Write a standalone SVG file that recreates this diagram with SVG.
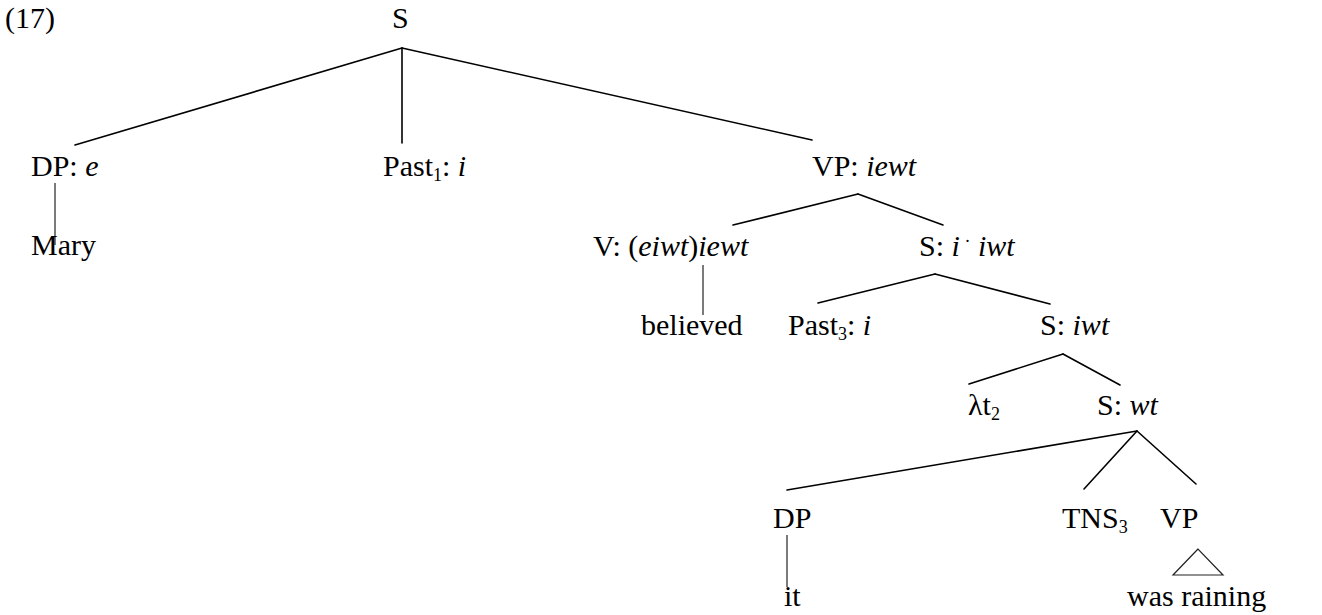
<svg xmlns="http://www.w3.org/2000/svg" width="1322" height="615" viewBox="0 0 1322 615">
  <style>
    text { font-family: "Liberation Serif", "Times New Roman", serif; font-size: 30px; fill: #000; }
    .it { font-style: italic; }
    .sub { font-size: 18px; }
    .edge { stroke: #000; stroke-width: 1.6; fill: none; stroke-linecap: round; }
    .thin { stroke: #222; stroke-width: 1.2; fill: none; }
  </style>
  <rect width="1322" height="615" fill="#fff"/>

  <text id="label" x="5" y="28">(17)</text>

  <!-- tree edges -->
  <g id="connectors">
    <!-- S -->
    <line class="edge" x1="402" y1="48" x2="75" y2="145"/>
    <line class="edge" x1="402" y1="48" x2="402" y2="143"/>
    <line class="edge" x1="402" y1="48" x2="812" y2="140"/>
    <!-- DP: e -> Mary -->
    <line class="thin" x1="55" y1="183" x2="55" y2="245"/>
    <!-- VP: iewt -->
    <line class="edge" x1="858" y1="194" x2="733" y2="225"/>
    <line class="edge" x1="858" y1="194" x2="943" y2="225"/>
    <!-- V -> believed -->
    <line class="thin" x1="703" y1="265" x2="703" y2="315"/>
    <!-- S: i iwt -->
    <line class="edge" x1="935" y1="274" x2="818" y2="303"/>
    <line class="edge" x1="935" y1="274" x2="1050" y2="304"/>
    <!-- S: iwt -->
    <line class="edge" x1="1063" y1="354" x2="969" y2="384"/>
    <line class="edge" x1="1063" y1="354" x2="1120" y2="385"/>
    <!-- S: wt -->
    <line class="edge" x1="1137" y1="431" x2="787" y2="490"/>
    <line class="edge" x1="1137" y1="431" x2="1084" y2="489"/>
    <line class="edge" x1="1137" y1="431" x2="1196" y2="484"/>
    <!-- DP -> it -->
    <line class="thin" x1="787" y1="535" x2="787" y2="587"/>
    <!-- VP roof -->
    <polygon class="thin" points="1198,549 1173,575 1223,575"/>
  </g>

  <g id="n-S"><text x="392" y="28">S</text></g>
  <g id="n-DPe"><text x="31" y="176">DP: <tspan class="it">e</tspan></text></g>
  <g id="n-Mary"><text x="31" y="255">Mary</text></g>
  <g id="n-Past1"><text x="383" y="176">Past<tspan class="sub" dy="5">1</tspan><tspan dy="-5">: </tspan><tspan class="it">i</tspan></text></g>
  <g id="n-VP1"><text x="812" y="176">VP: <tspan class="it">iewt</tspan></text></g>
  <g id="n-V"><text x="593" y="256">V: (<tspan class="it">eiwt</tspan>)<tspan class="it">iewt</tspan></text></g>
  <g id="n-S2"><text x="919" y="256">S: <tspan class="it">i</tspan><tspan class="sub" dy="-9"> ·</tspan><tspan dy="9"> </tspan><tspan class="it">iwt</tspan></text></g>
  <g id="n-believed"><text x="641" y="335">believed</text></g>
  <g id="n-Past3"><text x="788" y="335">Past<tspan class="sub" dy="5">3</tspan><tspan dy="-5">: </tspan><tspan class="it">i</tspan></text></g>
  <g id="n-S3"><text x="1040" y="335">S: <tspan class="it">iwt</tspan></text></g>
  <g id="n-lambda"><text x="968" y="415">λt<tspan class="sub" dy="5">2</tspan></text></g>
  <g id="n-S4"><text x="1097" y="415">S: <tspan class="it">wt</tspan></text></g>
  <g id="n-DP"><text x="773" y="528">DP</text></g>
  <g id="n-TNS"><text x="1062" y="528">TNS<tspan class="sub" dy="5">3</tspan></text></g>
  <g id="n-VP2"><text x="1160" y="528">VP</text></g>
  <g id="n-it"><text x="784" y="606">it</text></g>
  <g id="n-rain"><text x="1127" y="606">was raining</text></g>
</svg>
